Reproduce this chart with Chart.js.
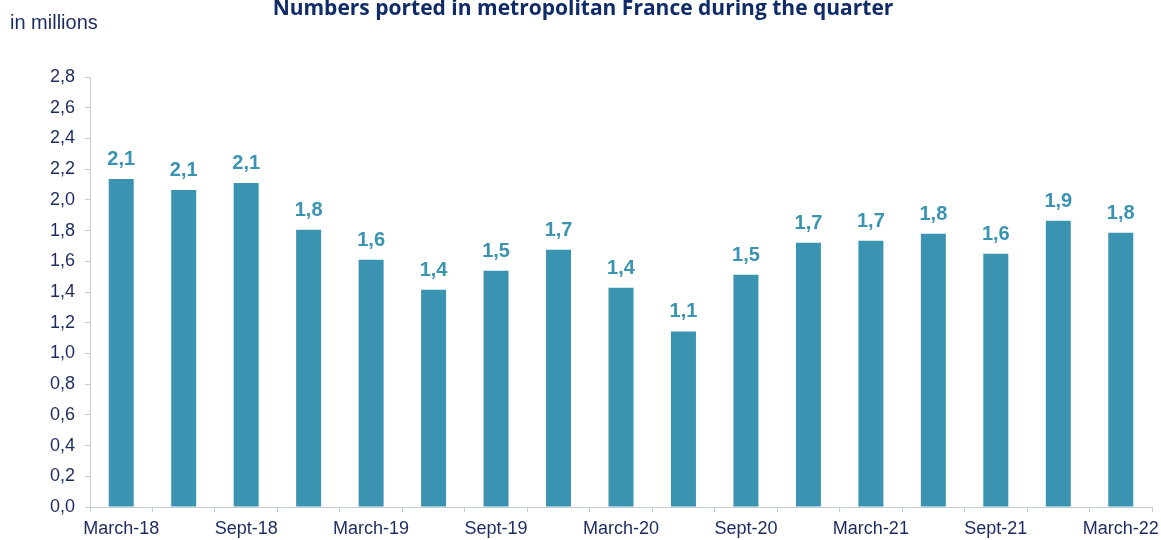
<!DOCTYPE html>
<html>
<head>
<meta charset="utf-8">
<script src="https://cdn.jsdelivr.net/npm/chart.js@4.4.0/dist/chart.umd.min.js"></script>
<style>
    html, body { margin: 0; padding: 0; background: #fff; }
    #wrap { width: 1161px; height: 540px; position: relative; }
</style>
</head>
<body>
<div id="wrap">
    <canvas id="portChart"></canvas>
</div>
<script>
    // quarters (only every other one gets a label on the axis)
    const quarters = ['March-18', 'June-18', 'Sept-18', 'Dec-18',
        'March-19', 'June-19', 'Sept-19', 'Dec-19',
        'March-20', 'June-20', 'Sept-20', 'Dec-20',
        'March-21', 'June-21', 'Sept-21', 'Dec-21', 'March-22']
    // numbers ported, in millions
    const ported = [2.136, 2.065, 2.11, 1.805, 1.61, 1.415, 1.539, 1.675,
        1.428, 1.143, 1.513, 1.72, 1.734, 1.779, 1.649, 1.864, 1.786]
    const yTicks = [0, 0.2, 0.4, 0.6, 0.8, 1.0, 1.2, 1.4, 1.6, 1.8, 2.0, 2.2, 2.4, 2.6, 2.8]

    const chartTitle = 'Numbers ported in metropolitan France during the quarter'
    const unitText = 'in millions'

    const barColor = '#3a93b1'
    const navy = '#1b2b5f'
    const axisColor = '#c3ced6'

    function frNum(v) {
        return v.toFixed(1).replace('.', ',')
    }

    const headerPlugin = {
        id: 'header',
        afterDraw(chart) {
            const ctx = chart.ctx
            ctx.save()
            ctx.fillStyle = navy
            ctx.font = '20px "Liberation Sans", Arial, sans-serif'
            ctx.textAlign = 'left'
            ctx.textBaseline = 'middle'
            ctx.fillText(unitText, 10, 23)

            ctx.fillStyle = '#0f2b68'
            ctx.font = 'bold 21px "Open Sans", sans-serif'
            ctx.textBaseline = 'alphabetic'
            let w = ctx.measureText(chartTitle).width
            let sx = Math.min(1, 650 / w)
            ctx.translate(583, 15)
            ctx.scale(sx, 1)
            ctx.textAlign = 'center'
            ctx.fillText(chartTitle, 0, 0)
            ctx.restore()
        }
    }

    const valueLabels = {
        id: 'valueLabels',
        afterDatasetsDraw(chart) {
            const ctx = chart.ctx
            const meta = chart.getDatasetMeta(0)
            ctx.save()
            ctx.fillStyle = barColor
            ctx.font = 'bold 20px "Liberation Sans", Arial, sans-serif'
            ctx.textAlign = 'center'
            ctx.textBaseline = 'alphabetic'
            meta.data.forEach((bar, i) => {
                ctx.fillText(frNum(ported[i]), bar.x, bar.y - 14)
            })
            ctx.restore()
        }
    }

    const portChart = document.getElementById('portChart')
    new Chart(portChart, {
        type: 'bar',
        data: {
            labels: quarters,
            datasets: [{
                data: ported,
                backgroundColor: barColor,
                borderWidth: 0,
                categoryPercentage: 0.8,
                barPercentage: 0.5
            }]
        },
        options: {
            responsive: true,
            maintainAspectRatio: false,
            animation: false,
            layout: { padding: { top: 77, right: 9, left: 0, bottom: 0 } },
            plugins: {
                legend: { display: false },
                tooltip: { enabled: false },
                title: { display: false }
            },
            scales: {
                x: {
                    grid: {
                        offset: true,
                        drawOnChartArea: false,
                        drawTicks: true,
                        tickLength: 5,
                        color: axisColor
                    },
                    border: { display: true, color: axisColor, width: 1 },
                    ticks: {
                        autoSkip: false,
                        maxRotation: 0,
                        padding: 6,
                        color: navy,
                        font: { family: '"Liberation Sans", Arial, sans-serif', size: 18 },
                        callback: function (val, idx) {
                            return idx % 2 === 0 ? quarters[idx] : ''
                        }
                    },
                    afterFit(scale) {
                        scale.height = 33
                        scale.paddingLeft = 0
                        scale.paddingRight = 0
                    }
                },
                y: {
                    min: 0,
                    max: 2.8,
                    afterBuildTicks(scale) {
                        scale.ticks = yTicks.map(v => ({ value: v }))
                    },
                    grid: {
                        drawOnChartArea: false,
                        drawTicks: true,
                        tickLength: 5,
                        color: axisColor
                    },
                    border: { display: true, color: axisColor, width: 1 },
                    ticks: {
                        padding: 10,
                        color: navy,
                        font: { family: '"Liberation Sans", Arial, sans-serif', size: 18 },
                        callback: function (val) { return frNum(val) }
                    },
                    afterFit(scale) {
                        scale.width = 90
                        scale.paddingTop = 0
                        scale.paddingBottom = 0
                    }
                }
            }
        },
        plugins: [headerPlugin, valueLabels]
    })
</script>
</body>
</html>
